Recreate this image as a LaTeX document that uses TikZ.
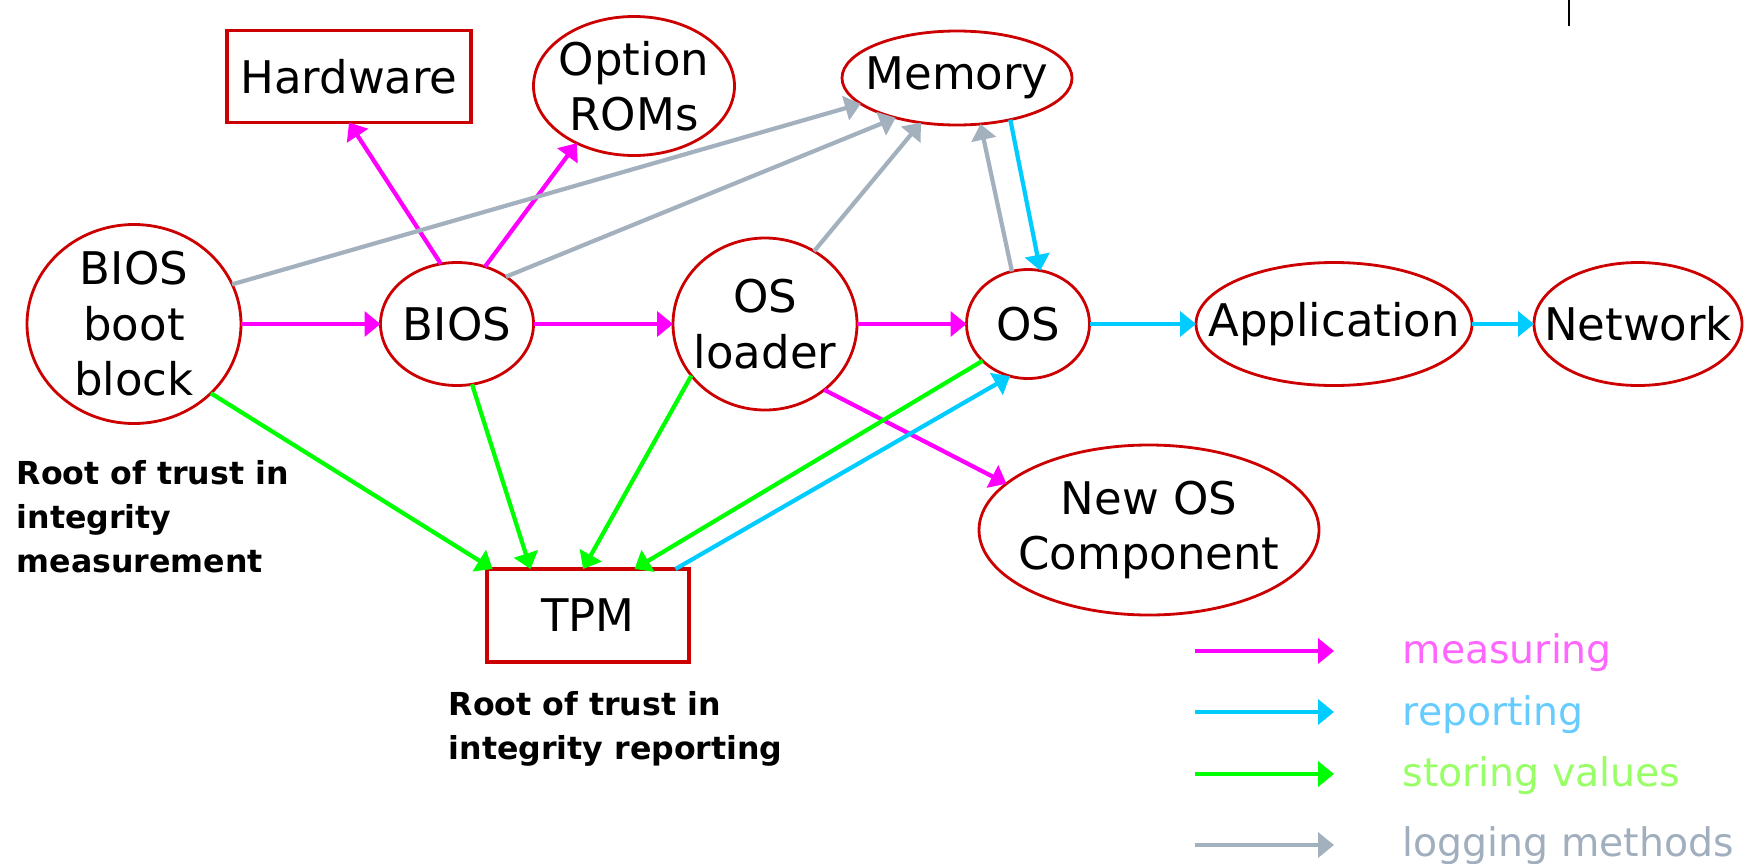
\documentclass[tikz,border=0pt]{standalone}
\usepackage{fontspec}
\setmainfont{DejaVu Sans}
\usetikzlibrary{shapes.geometric, arrows.meta, positioning}
\definecolor{trustRed}{HTML}{CC0000}
\definecolor{measMagenta}{HTML}{FF00FF}
\definecolor{repCyan}{HTML}{00CCFF}
\definecolor{storeGreen}{HTML}{00FF00}
\definecolor{logGray}{HTML}{A3B1BF}
\definecolor{measText}{HTML}{FF66FF}
\definecolor{repText}{HTML}{66CCFF}
\definecolor{storeText}{HTML}{99FF66}
\definecolor{logText}{HTML}{A0AEBE}

\begin{document}
\begin{tikzpicture}[
    node distance=1.4cm,
    stage/.style={ellipse, draw=trustRed, line width=0.8pt, outer sep=0pt, inner xsep=-8.5pt, inner ysep=-2pt, align=center, font={\fontsize{12.8}{15.8}\selectfont}},
    box/.style={rectangle, draw=trustRed, line width=1pt, outer sep=0pt, inner sep=0pt, font={\fontsize{12.8}{15.8}\selectfont}},
    note/.style={anchor=north west, inner sep=0pt, align=left, font={\fontsize{9}{12.5}\selectfont\bfseries}},
    key/.style={anchor=base west, inner sep=0pt, font={\fontsize{11.2}{13}\selectfont}},
    arrow/.style={-{Triangle[length=4.5pt, width=7pt]}, line width=1.2pt},
    measure/.style={arrow, measMagenta},
    report/.style={arrow, repCyan},
    storing/.style={arrow, storeGreen},
    logging/.style={arrow, logGray},
]
    \useasboundingbox (0,0) rectangle (17.44,-8.63);

    % Boot chain
    \node[stage, minimum width=2.14cm, minimum height=1.99cm] (bbb) at (1.34,-3.24) {BIOS\\boot\\block};
    \node[stage, minimum width=1.53cm, minimum height=1.23cm, right=1.395cm of bbb] (bios) {BIOS};
    \node[stage, minimum width=1.84cm, minimum height=1.72cm, right=1.395cm of bios] (ldr) {OS\\loader};
    \node[stage, minimum width=1.23cm, minimum height=1.09cm, right=1.095cm of ldr] (os) {OS};
    \node[stage, minimum width=2.76cm, minimum height=1.23cm, right=1.065cm of os] (app) {Application};
    \node[stage, minimum width=2.08cm, minimum height=1.23cm, right=0.62cm of app] (net) {Network};

    % Measured and logged parts
    \node[box, minimum width=2.44cm, minimum height=0.92cm, above=1.4cm of bios, xshift=-1.08cm] (hw) {Hardware};
    \node[stage, minimum width=2.01cm, minimum height=1.39cm, above=1.07cm of bios, xshift=1.77cm] (rom) {Option\\ROMs};
    \node[stage, minimum width=2.30cm, minimum height=0.94cm, above=1.13cm of ldr, xshift=1.92cm] (mem) {Memory};
    \node[stage, minimum width=3.40cm, minimum height=1.70cm, below=0.665cm of os, xshift=1.21cm] (newos) {New OS\\Component};
    \node[box, minimum width=2.02cm, minimum height=0.93cm, below=1.835cm of bios, xshift=1.31cm] (tpm) {TPM};

    % Roots of trust
    \node[note] (rtm) at (0.16,-4.60) {Root of trust in\\integrity\\measurement};
    \node[note] (rtr) at (4.48,-6.91) {Root of trust in\\integrity reporting};

    % Measuring
    \draw[measure] (bbb) -- (bios);
    \draw[measure] (bios) -- (ldr);
    \draw[measure] (ldr) -- (os);
    \draw[measure] (bios.105) -- (hw.south);
    \draw[measure] (bios.64) -- (rom.225);
    \draw[measure] (ldr.312) -- (newos.162);

    % Logging
    \draw[logging] (bbb.22) -- (mem.195);
    \draw[logging] (bios.44) -- (mem.213);
    \draw[logging] (ldr.56) -- (mem.231);
    \draw[logging] (os.107) -- (mem.297);

    % Reporting
    \draw[report] (mem.322) -- (os.77);
    \draw[report] (os) -- (app);
    \draw[report] (app) -- (net);
    \draw[report] (tpm.28) -- (os.251);

    % Storing values
    \draw[storing] (bbb.318) -- (tpm.154);
    \draw[storing] (bios.284) -- (tpm.141);
    \draw[storing] (ldr.215) -- (tpm.96);
    \draw[storing] (os.219) -- (tpm.45);

    % Legend
    \node[key, text=measText] (kmeas) at (14.02,-6.63) {measuring};
    \node[key, text=repText] (krep) at (14.02,-7.25) {reporting};
    \node[key, text=storeText] (kstore) at (14.02,-7.86) {storing values};
    \node[key, text=logText] (klog) at (14.02,-8.56) {logging methods};
    \coordinate (kmeas0) at (11.95,-6.51);
    \coordinate (kmeas1) at (13.34,-6.51);
    \coordinate (krep0) at (11.95,-7.12);
    \coordinate (krep1) at (13.34,-7.12);
    \coordinate (kstore0) at (11.95,-7.74);
    \coordinate (kstore1) at (13.34,-7.74);
    \coordinate (klog0) at (11.95,-8.45);
    \coordinate (klog1) at (13.34,-8.45);
    \draw[measure] (kmeas0) -- (kmeas1);
    \draw[report] (krep0) -- (krep1);
    \draw[storing] (kstore0) -- (kstore1);
    \draw[logging] (klog0) -- (klog1);

    % stray mark
    \coordinate (mark0) at (15.69,0);
    \coordinate (mark1) at (15.69,-0.26);
    \draw[line width=0.6pt] (mark0) -- (mark1);
\end{tikzpicture}
\end{document}
